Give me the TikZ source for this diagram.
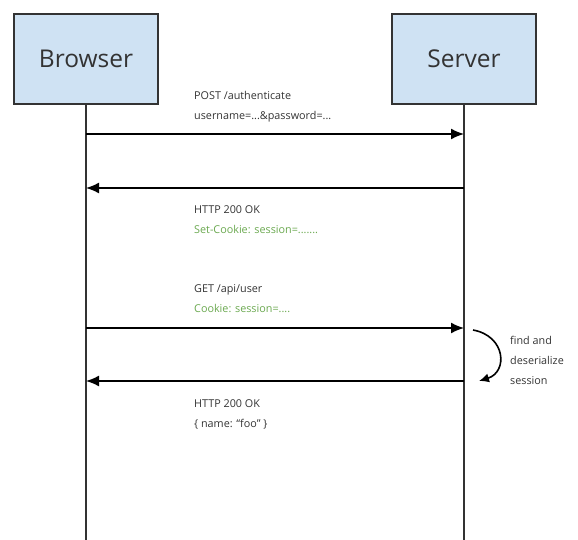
\documentclass[tikz,border=0pt]{standalone}
\usepackage{fontspec}
\setmainfont{Open Sans}
\usetikzlibrary{arrows.meta,positioning}
\definecolor{boxblue}{HTML}{CFE2F3}
\definecolor{inkgray}{HTML}{333333}
\definecolor{cookiegreen}{HTML}{6AA84F}

\begin{document}
\begin{tikzpicture}[x=1pt, y=-1pt,
    actor/.style={draw=inkgray, line width=2pt, fill=boxblue, minimum width=144pt, minimum height=90pt,
        font=\fontsize{24.5}{28}\selectfont, text=inkgray},
    life/.style={draw=inkgray, line width=2pt},
    msg/.style={draw=black, line width=1.6pt, -{Latex[length=13pt,width=11pt]}},
    label/.style={anchor=north west, align=left, inner sep=0pt, text=inkgray,
        font=\fontsize{10.8}{20}\selectfont}]
    \useasboundingbox (0,0) rectangle (578,540);
    % Actors
    \node[actor] (browser) at (86,59) {Browser};
    \node[actor] (server) at (464,59) {Server};
    % Lifelines
    \coordinate (bend) at (86,540);
    \coordinate (send) at (464,540);
    \draw[life] (browser.south) -- (bend);
    \draw[life] (server.south) -- (send);
    % Message points
    \coordinate (b1) at (86,134);  \coordinate (s1) at (464,134);
    \coordinate (b2) at (86,188);  \coordinate (s2) at (464,188);
    \coordinate (b3) at (86,328);  \coordinate (s3) at (464,328);
    \coordinate (b4) at (86,381);  \coordinate (s4) at (464,381);
    % Login
    \draw[msg] (b1) -- (s1);
    \node[label] (post) at (194,91) {POST /authenticate\\username=...\&password=...};
    \draw[msg] (s2) -- (b2);
    \node[label] (ok1) at (194,205) {HTTP 200 OK\\\textcolor{cookiegreen}{Set-Cookie: session=.......}};
    % Request with cookie
    \draw[msg] (b3) -- (s3);
    \node[label] (get) at (194,284) {GET /api/user\\\textcolor{cookiegreen}{Cookie: session=....}};
    \draw[msg] (s4) -- (b4);
    \node[label] (ok2) at (194,399) {HTTP 200 OK\\\{ name: ``foo'' \}};
    % Session lookup
    \coordinate (loopa) at (473,330);
    \coordinate (loopb) at (479,381);
    \draw[draw=black, line width=1.6pt, -{Latex[length=10pt,width=9pt]}]
        (loopa) .. controls (506,336) and (508,372) .. (loopb);
    \node[label] (lookup) at (510,336) {find and\\deserialize\\session};
\end{tikzpicture}
\end{document}
